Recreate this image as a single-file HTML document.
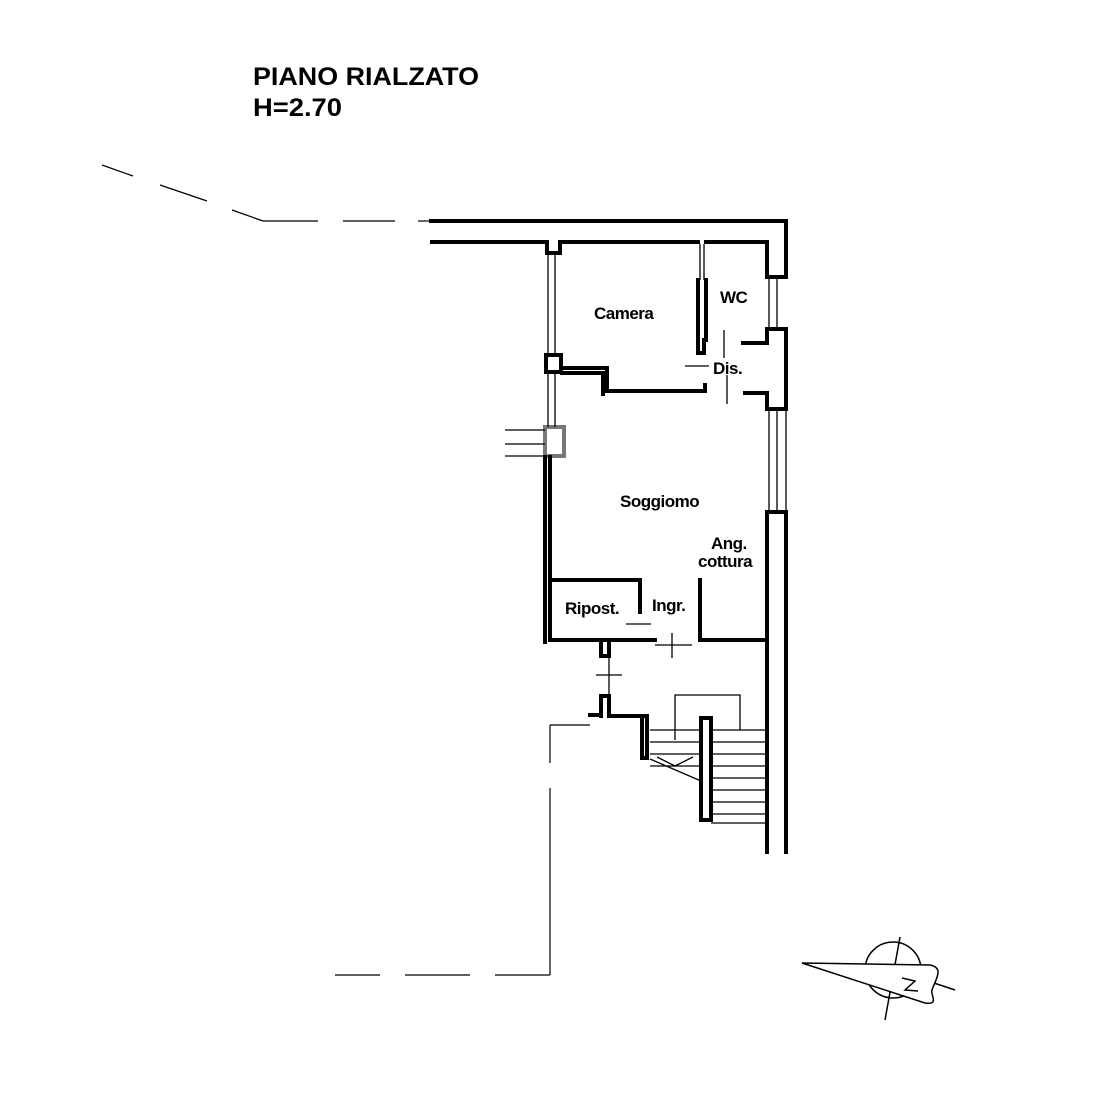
<!DOCTYPE html>
<html><head><meta charset="utf-8"><style>html,body{margin:0;padding:0;background:#fff}svg{display:block}</style></head>
<body>
<svg width="1103" height="1108" viewBox="0 0 1103 1108" xmlns="http://www.w3.org/2000/svg" font-family="Liberation Sans, Arial, sans-serif">
<rect width="1103" height="1108" fill="#fff"/>
<text x="253" y="85" font-size="25" font-weight="bold" textLength="226" lengthAdjust="spacingAndGlyphs">PIANO RIALZATO</text>
<text x="253" y="116" font-size="25" font-weight="bold" textLength="89" lengthAdjust="spacingAndGlyphs">H=2.70</text>

<g stroke="#000" stroke-width="1.2" fill="none">
<line x1="102" y1="165" x2="133" y2="176"/>
<line x1="160" y1="185" x2="207" y2="201"/>
<line x1="232" y1="210" x2="263" y2="221"/>
<line x1="263" y1="221" x2="318" y2="221"/>
<line x1="343" y1="221" x2="395" y2="221"/>
<line x1="418" y1="221" x2="430" y2="221"/>
<line x1="550" y1="725" x2="550" y2="763"/>
<line x1="550" y1="788" x2="550" y2="975"/>
<line x1="550" y1="975" x2="495" y2="975"/>
<line x1="470" y1="975" x2="405" y2="975"/>
<line x1="380" y1="975" x2="335" y2="975"/>
<line x1="550" y1="725" x2="590" y2="725"/>
</g>

<g stroke="#000" stroke-width="4" fill="none" stroke-linecap="square">
<polyline points="431,221 786,221 786,277"/>
<polyline points="432,242 547,242 547,253 560,253 560,242 698,242"/>
<polyline points="706,242 767,242 767,277 786,277"/>
<polyline points="767,329 786,329 786,409 767,409 767,393 745,393"/>
<polyline points="767,329 767,343 743,343"/>
<polyline points="767,512 786,512 786,852"/>
<line x1="767" y1="512" x2="767" y2="852"/>
<rect x="546" y="355" width="15" height="17"/>
<rect x="545" y="427" width="19" height="29" stroke="#777"/>
<polyline points="562,368 607,368 607,391 705,391 705,385"/>
<polyline points="562,373 603,373 603,394"/>
<polyline points="698,280 698,353 704,353 704,340 706,340 706,280"/>
<line x1="545" y1="457" x2="545" y2="642"/>
<line x1="550" y1="457" x2="550" y2="637"/>
<polyline points="550,580 640,580 640,612"/>
<polyline points="550,640 655,640"/>
<polyline points="700,580 700,640 767,640"/>
<polyline points="601,643 601,656 609,656 609,643"/>
<polyline points="601,716 601,696 609,696 609,716 647,716 647,758 642,758 642,720"/>
<line x1="590" y1="715" x2="601" y2="715"/>
<rect x="701" y="718" width="10" height="102"/>
</g>
<g stroke="#000" stroke-width="1.3" fill="none">
<line x1="548" y1="255" x2="548" y2="355"/><line x1="555" y1="255" x2="555" y2="355"/>
<line x1="548" y1="372" x2="548" y2="427"/><line x1="555" y1="372" x2="555" y2="427"/>
<line x1="700" y1="244" x2="700" y2="280"/><line x1="704" y1="244" x2="704" y2="280"/>
<line x1="769" y1="277" x2="769" y2="329"/><line x1="777" y1="277" x2="777" y2="329"/>
<line x1="769" y1="409" x2="769" y2="512"/><line x1="777" y1="409" x2="777" y2="512"/><line x1="786" y1="409" x2="786" y2="512"/>
<line x1="505" y1="430" x2="545" y2="430"/><line x1="505" y1="444" x2="545" y2="444"/><line x1="505" y1="456" x2="545" y2="456"/>
<line x1="724" y1="330" x2="724" y2="358"/><line x1="685" y1="366" x2="709" y2="366"/><line x1="727" y1="375" x2="727" y2="404"/>
<line x1="626" y1="624" x2="651" y2="624"/>
<line x1="655" y1="645" x2="692" y2="645"/><line x1="672" y1="633" x2="672" y2="658"/>
<line x1="609" y1="656" x2="609" y2="696"/><line x1="596" y1="675" x2="622" y2="675"/>
<polyline points="675,740 675,695 740,695 740,730"/>
<line x1="650" y1="730" x2="701" y2="730"/>
<line x1="650" y1="742" x2="701" y2="742"/>
<line x1="650" y1="754" x2="701" y2="754"/>
<line x1="650" y1="766" x2="701" y2="766"/>
<line x1="711" y1="730" x2="767" y2="730"/>
<line x1="711" y1="742" x2="767" y2="742"/>
<line x1="711" y1="754" x2="767" y2="754"/>
<line x1="711" y1="766" x2="767" y2="766"/>
<line x1="711" y1="778" x2="767" y2="778"/>
<line x1="711" y1="790" x2="767" y2="790"/>
<line x1="711" y1="802" x2="767" y2="802"/>
<line x1="711" y1="814" x2="767" y2="814"/>
<line x1="711" y1="823" x2="767" y2="823"/>
<line x1="650" y1="759" x2="701" y2="781"/>
<polyline points="657,757 675,766 693,757"/>
</g>
<g font-size="17" font-weight="bold" fill="#000" letter-spacing="-0.5">
<text x="594" y="319">Camera</text>
<text x="720" y="303">WC</text>
<text x="713" y="374">Dis.</text>
<text x="620" y="507">Soggiomo</text>
<text x="711" y="549">Ang.</text>
<text x="698" y="567">cottura</text>
<text x="565" y="614">Ripost.</text>
<text x="652" y="611">Ingr.</text>
</g>
<g stroke="#000" stroke-width="1.5" fill="none">
<circle cx="893" cy="970" r="28"/>
<line x1="900" y1="937" x2="885" y2="1020"/>
<line x1="925" y1="980" x2="955" y2="990"/>
<path d="M802,963 L930,965 C945,968 935,980 932,990 C930,995 940,1005 925,1003 Z" fill="#fff"/>
<path d="M902,978 L915,981 L905,990 L918,991"/>
</g>
</svg>
</body></html>
